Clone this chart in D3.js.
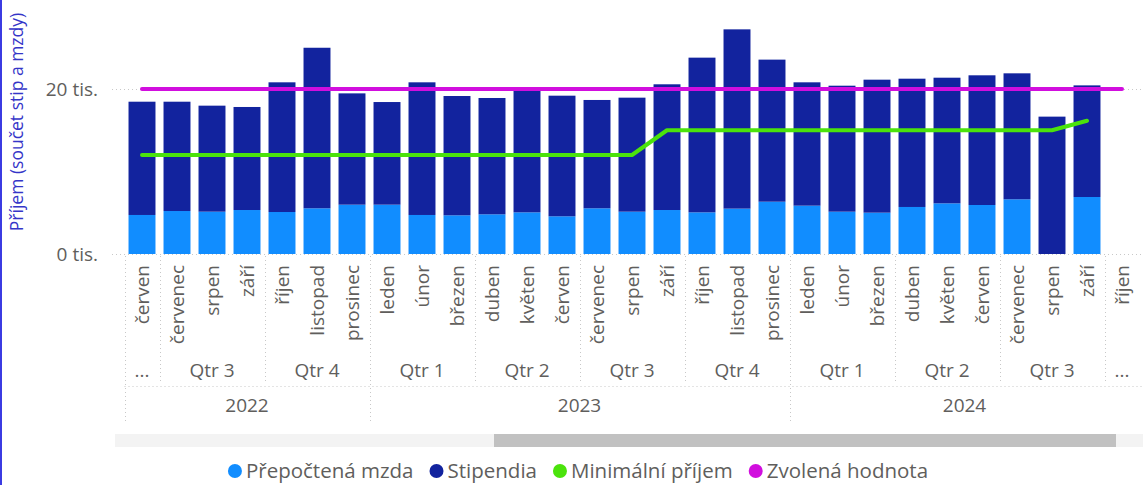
<!DOCTYPE html>
<html>
<head>
<meta charset="utf-8">
<script src="https://cdn.jsdelivr.net/npm/d3@7"></script>
<style>
  body { margin: 0; background: #fff; }
  svg { display: block; font-family: 'Segoe UI', 'Open Sans', sans-serif; }
</style>
</head>
<body>
<svg id="chart" width="1143" height="485"></svg>
<script>
// categories (last month has no bars, only the target line)
const months = ['červen','červenec','srpen','září','říjen','listopad','prosinec',
  'leden','únor','březen','duben','květen','červen','červenec','srpen','září','říjen','listopad','prosinec',
  'leden','únor','březen','duben','květen','červen','červenec','srpen','září','říjen']
const years = [2022,2022,2022,2022,2022,2022,2022,
  2023,2023,2023,2023,2023,2023,2023,2023,2023,2023,2023,2023,
  2024,2024,2024,2024,2024,2024,2024,2024,2024,2024]
const quarters = [2,3,3,3,4,4,4, 1,1,1,2,2,2,3,3,3,4,4,4, 1,1,1,2,2,2,3,3,3,4]

// values in CZK
const mzda = [4730,5210,5130,5330,5090,5540,5980, 5980,4730,4690,4810,5050,4570,5540,5130,5330,5050,5500,6340,
  5860,5130,5010,5700,6140,5940,6630,0,6910]
const stipendia = [13730,13250,12850,12490,15720,19460,13490, 12440,16080,14460,14100,15030,14620,13130,13820,15240,18750,21730,17220,
  14950,15270,16120,15550,15230,15720,15270,16650,13530]
const minimalni = [12000,12000,12000,12000,12000,12000,12000, 12000,12000,12000,12000,12000,12000,12000,12000,15000,15000,15000,15000,
  15000,15000,15000,15000,15000,15000,15000,15000,16150]
const zvolena = [20000,20000,20000,20000,20000,20000,20000, 20000,20000,20000,20000,20000,20000,20000,20000,20000,20000,20000,20000,
  20000,20000,20000,20000,20000,20000,20000,20000,20000,20000]

const yTicks = [0, 20000]
const seriesNames = ['Přepočtená mzda', 'Stipendia', 'Minimální příjem', 'Zvolená hodnota']
const colors = ['#118DFF', '#12239E', '#4BE30C', '#D10EDE']

const svg = d3.select('#chart')
const W = 1143
const gridLeft = 112, plotLeft = 124.5, plotRight = 1139.5

const keys = d3.range(months.length)
const x = d3.scaleBand().domain(keys).range([plotLeft, plotRight])
const step = x.step()
const bw = step * 0.77
const cx = i => x(i) + step / 2

const y = d3.scaleLinear().domain([0, 30000]).range([254, 6.5])

// left focus border
svg.append('line').attr('x1', 1).attr('x2', 1).attr('y1', 0).attr('y2', 485)
  .attr('stroke', '#3b3be2').attr('stroke-width', 2)

// y title
svg.append('text')
  .attr('transform', 'translate(23,122) rotate(-90)')
  .attr('text-anchor', 'middle')
  .attr('font-size', 17.5)
  .attr('fill', '#3535c8')
  .text('Příjem (součet stip a mzdy)')

// gridlines + y labels
const yAxis = d3.axisLeft(y).tickValues(yTicks).tickSize(0).tickPadding(0)
  .tickFormat(d => (d / 1000) + ' tis.')
const gy = svg.append('g').attr('transform', `translate(98,0)`).call(yAxis)
gy.select('.domain').remove()
gy.selectAll('text').attr('font-size', 19).attr('fill', '#605E5C')
  .attr('font-family', "'Segoe UI', 'Open Sans', sans-serif")
svg.append('g').selectAll('line').data(yTicks).join('line')
  .attr('x1', gridLeft).attr('x2', W)
  .attr('y1', d => y(d) + 0.5).attr('y2', d => y(d) + 0.5)
  .attr('stroke', '#c8c8c8').attr('stroke-dasharray', '1,3')

// stacked bars
const rows = mzda.map((m, i) => ({i, mzda: m, stip: stipendia[i]}))
const stack = d3.stack().keys(['mzda', 'stip'])(rows)
svg.append('g').selectAll('g').data(stack).join('g')
  .attr('fill', (d, k) => colors[k])
  .selectAll('rect').data(d => d).join('rect')
  .attr('x', d => cx(d.data.i) - bw / 2)
  .attr('width', bw)
  .attr('y', d => y(d[1]))
  .attr('height', d => y(d[0]) - y(d[1]))

// lines
const line = d3.line().x((d, i) => cx(i)).y(d => y(d))
svg.append('path').datum(minimalni).attr('d', line)
  .attr('fill', 'none').attr('stroke', colors[2]).attr('stroke-width', 4)
  .attr('stroke-linejoin', 'round').attr('stroke-linecap', 'round')
svg.append('path').datum(zvolena).attr('d', line)
  .attr('fill', 'none').attr('stroke', colors[3]).attr('stroke-width', 4)
  .attr('stroke-linejoin', 'round').attr('stroke-linecap', 'round')

// hierarchical x axis
const ax = svg.append('g').attr('fill', '#605E5C').attr('font-size', 19)
ax.selectAll('text.month').data(months).join('text')
  .attr('class', 'month')
  .attr('transform', (d, i) => `translate(${cx(i)},265) rotate(-90)`)
  .attr('text-anchor', 'end')
  .attr('dy', '0.35em')
  .text(d => d)

function runs(keyFn) {
  const out = []
  keys.forEach(i => {
    const k = keyFn(i)
    if (out.length && out[out.length - 1].key === k) out[out.length - 1].end = i
    else out.push({key: k, start: i, end: i})
  })
  return out
}
const qRuns = runs(i => years[i] + '-' + quarters[i])
const yRuns = runs(i => years[i])

const dotted = (x1, y1, x2, y2) => ax.append('line')
  .attr('x1', x1).attr('y1', y1).attr('x2', x2).attr('y2', y2)
  .attr('stroke', '#c8c8c8').attr('stroke-dasharray', '1,3')

qRuns.forEach(r => {
  const left = x(r.start), right = x(r.end) + step
  ax.append('text')
    .attr('x', (left + right) / 2).attr('y', 377)
    .attr('text-anchor', 'middle')
    .text(r.start === r.end ? '...' : 'Qtr ' + quarters[r.start])
  if (r.start > 0) dotted(Math.round(left) + 0.5, 256, Math.round(left) + 0.5, 384)
})
dotted(plotLeft, 386.5, W, 386.5)
yRuns.forEach(r => {
  const left = x(r.start), right = Math.min(x(r.end) + step, plotRight)
  ax.append('text')
    .attr('x', (left + right) / 2).attr('y', 412)
    .attr('text-anchor', 'middle')
    .text(r.key)
  dotted(Math.round(left) + 0.5, 256, Math.round(left) + 0.5, 424)
})

// scrollbar
svg.append('rect').attr('x', 115).attr('y', 434).attr('width', W - 115).attr('height', 13).attr('fill', '#f3f3f3')
svg.append('rect').attr('x', 494).attr('y', 434).attr('width', 622).attr('height', 13).attr('fill', '#c1c1c1')

// legend
const lg = svg.append('g')
let pos = 0
seriesNames.forEach((name, k) => {
  const item = lg.append('g').attr('transform', `translate(${pos},0)`)
  item.append('circle').attr('cx', 7).attr('cy', 471).attr('r', 7).attr('fill', colors[k])
  const t = item.append('text').attr('x', 18).attr('y', 478)
    .attr('font-size', 20.5).attr('fill', '#605E5C').text(name)
  pos += 18 + t.node().getComputedTextLength() + 16
})
const lgWidth = pos - 16
lg.attr('transform', `translate(${578 - lgWidth / 2},0)`)
</script>
</body>
</html>
